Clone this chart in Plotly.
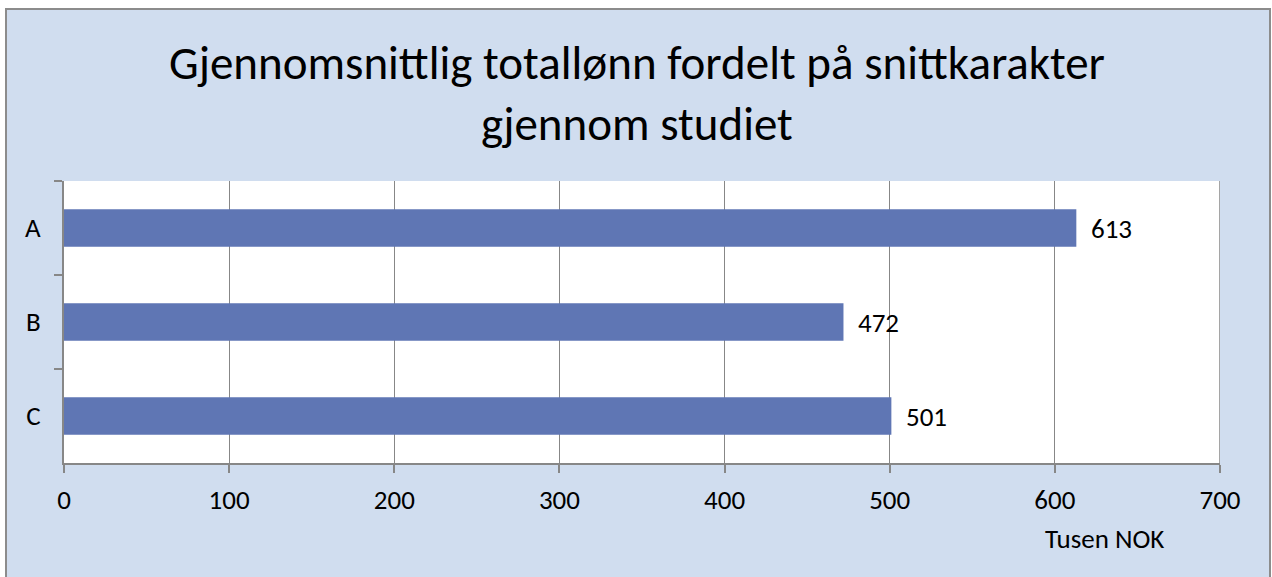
import plotly.graph_objects as go

categories = ["A", "B", "C"]
values = [613, 472, 501]
x_ticks = [0, 100, 200, 300, 400, 500, 600, 700]
title_text = "Gjennomsnittlig totallønn fordelt på snittkarakter<br>gjennom studiet"
x_title = "Tusen NOK"

BAR = "#5F76B4"
BG = "#D0DDEF"
GRID = "#878787"
FONT = "Carlito, Lato, 'Open Sans', sans-serif"

W, H = 1272, 577
L, R, T, B = 64, 1220, 181, 463

def px_x(p):
    return (p - L) / (R - L)

def px_y(p):
    return (B - p) / (B - T)

fig = go.Figure()
fig.add_trace(go.Bar(
    x=values, y=categories, orientation="h",
    marker=dict(color=BAR, line=dict(width=0)),
    hoverinfo="skip",
))

for c, v in zip(categories, values):
    fig.add_annotation(x=v, y=c, xref="x", yref="y", text=str(v),
                       showarrow=False, xanchor="left", xshift=13,
                       font=dict(size=27, color="black", family=FONT))

fig.add_annotation(x=px_x(1104), y=px_y(538), xref="paper", yref="paper",
                   text=x_title, showarrow=False, xanchor="center", yanchor="middle",
                   font=dict(size=27, color="black", family=FONT))

fig.add_annotation(x=px_x(637), y=px_y(93), xref="paper", yref="paper",
                   text=title_text, showarrow=False, xanchor="center", yanchor="middle",
                   font=dict(size=47, color="black", family=FONT))

# chart-area background with border
fig.add_shape(type="rect", xref="paper", yref="paper", layer="below",
              x0=px_x(6), x1=px_x(1270), y0=px_y(9), y1=px_y(600),
              fillcolor=BG, line=dict(color="#8C8C8C", width=2))
# white plot area
fig.add_shape(type="rect", xref="paper", yref="paper", layer="below",
              x0=0, x1=1, y0=0, y1=1, fillcolor="white", line=dict(width=0))
# gridline at the last tick (right edge)
fig.add_shape(type="line", xref="x", yref="paper", layer="below",
              x0=x_ticks[-1], x1=x_ticks[-1], y0=0, y1=1,
              line=dict(color=GRID, width=1.5))

fig.update_layout(
    width=W, height=H,
    margin=dict(l=L, r=W - R, t=T, b=H - B),
    paper_bgcolor="white",
    plot_bgcolor="white",
    showlegend=False,
    bargap=0.6,
    font=dict(family=FONT, color="black", size=27),
    xaxis=dict(range=[0, 700], tickvals=x_ticks, showgrid=True, gridcolor=GRID, gridwidth=1,
               showline=True, linecolor=GRID, linewidth=2, ticks="outside", ticklen=8,
               tickcolor=GRID, tickwidth=2, zeroline=False, fixedrange=True,
               tickfont=dict(size=27, family=FONT), ticklabelstandoff=4),
    yaxis=dict(autorange="reversed", type="category", showgrid=False,
               showline=True, linecolor=GRID, linewidth=2, ticks="outside", ticklen=8,
               tickcolor=GRID, tickwidth=2, tickson="boundaries", fixedrange=True,
               tickfont=dict(size=27, family=FONT), ticklabelstandoff=16),
)

fig.write_html("out.html", config={"displayModeBar": False},
               post_script="document.body.style.margin='0';document.body.style.overflow='hidden';")
